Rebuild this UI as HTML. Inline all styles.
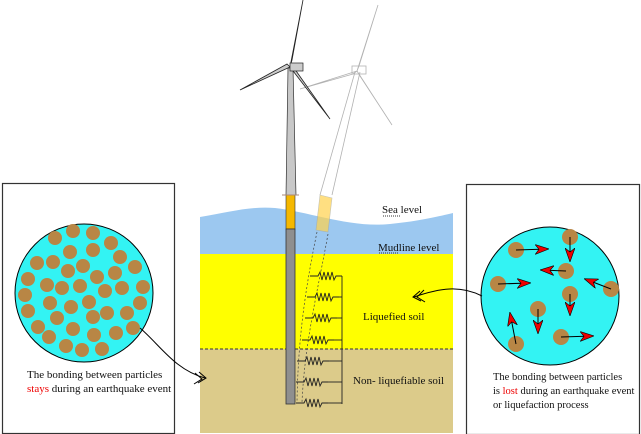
<!DOCTYPE html>
<html><head><style>
body{margin:0;background:#fff;width:641px;height:434px;overflow:hidden}
svg{display:block}
text{font-family:"Liberation Serif",serif;fill:#111}
</style></head><body>
<svg width="641" height="434" viewBox="0 0 641 434">
<defs>
<marker id="ra" markerWidth="14" markerHeight="10" refX="13" refY="5" orient="auto" markerUnits="userSpaceOnUse">
<path d="M0,0 L14,5 L0,10 L4,5 Z" fill="#e00" stroke="#000" stroke-width="0.6"/></marker>
<path id="sp" d="M0,0 H8 L10,-4 L12,4 L14,-4 L16,4 L18,-4 L20,4 L22,-4 L24,4 L26,0 H32"/>
</defs>
<!-- scene -->
<rect x="200" y="254" width="253" height="95" fill="#ffff00"/>
<rect x="200" y="349" width="253" height="84" fill="#dccb8a"/>
<path d="M200,217 C230,212 250,206 275,208 C310,212 350,228 390,224 C420,221 440,216 453,213 L453,254 L200,254 Z" fill="#9cc8f0"/>
<line x1="200" y1="349" x2="453" y2="349" stroke="#333" stroke-dasharray="3,2" stroke-width="1"/>
<!-- ghost turbine -->
<g opacity="0.45" stroke="#555" fill="none" stroke-width="0.8">
<path d="M355,72 L320,195 M360,72 L332,195"/>
<path d="M357,71 L378,5 L359,66 Z M357,71 L300,89 L353,74 Z M357,71 L392,125 L360,76 Z"/>
<rect x="352" y="66" width="14" height="8"/>
</g>
<path d="M320,195 L332,198 L328,232 L316,230 Z" fill="#ffd24d" opacity="0.7" stroke="#aa9" stroke-width="0.6"/>
<path d="M317,232 C305,290 298,340 297,402 M328,234 C318,290 305,340 302,402" fill="none" stroke="#444" stroke-width="0.7" stroke-dasharray="2,2"/>
<!-- main turbine -->
<path d="M288,68 L293,68 L296,195 L286,195 Z" fill="#c8c8c8" stroke="#333" stroke-width="0.7"/>
<path d="M290,67 L303,0 L292,60 Z M290,67 L240,90 L287,64 Z M290,67 L330,119 L294,68 Z" fill="#ccc" stroke="#222" stroke-width="0.8"/>
<rect x="290" y="63" width="13" height="8" fill="#ccc" stroke="#222" stroke-width="0.7"/>
<rect x="286" y="195" width="9" height="34" fill="#f5b800" stroke="#333" stroke-width="0.6"/>
<line x1="282" y1="195" x2="299" y2="195" stroke="#a87" stroke-width="1"/>
<rect x="286" y="229" width="9" height="175" fill="#8f8f8f" stroke="#333" stroke-width="0.8"/>
<!-- springs -->
<g fill="none" stroke="#222" stroke-width="0.9">
<line x1="342" y1="276" x2="342" y2="404"/>
<use href="#sp" x="310" y="276"/><use href="#sp" x="307" y="297"/><use href="#sp" x="305" y="318"/><use href="#sp" x="302" y="340"/>
<use href="#sp" x="297" y="361"/><use href="#sp" x="296" y="382"/><use href="#sp" x="296" y="403"/>
<line x1="336" y1="276" x2="342" y2="276"/><line x1="336" y1="297" x2="342" y2="297"/><line x1="334" y1="318" x2="342" y2="318"/><line x1="334" y1="340" x2="342" y2="340"/><line x1="328" y1="361" x2="342" y2="361"/><line x1="328" y1="382" x2="342" y2="382"/><line x1="328" y1="403" x2="342" y2="403"/>
</g>
<text x="382" y="213" font-size="11">Sea level</text>
<line x1="383" y1="216" x2="400" y2="216" stroke="#333" stroke-dasharray="1,1"/>
<text x="378" y="251" font-size="11">Mudline level</text>
<line x1="379" y1="253" x2="399" y2="253" stroke="#333" stroke-dasharray="1,1"/>
<text x="363" y="320" font-size="11">Liquefied soil</text>
<text x="353" y="384" font-size="11">Non- liquefiable soil</text>
<!-- boxes -->
<rect x="2.5" y="183.5" width="172" height="250" fill="none" stroke="#333" stroke-width="1.2"/>
<rect x="466.5" y="184.5" width="173" height="250" fill="none" stroke="#333" stroke-width="1.2"/>
<circle cx="84" cy="293" r="69" fill="#33f3f3" stroke="#000" stroke-width="1"/>
<g fill="#b88645">
<circle cx="55" cy="238" r="7"/><circle cx="73" cy="231" r="7"/><circle cx="93" cy="233" r="7"/><circle cx="111" cy="243" r="7"/><circle cx="70" cy="252" r="7"/><circle cx="93" cy="250" r="7"/><circle cx="120" cy="257" r="7"/><circle cx="37" cy="263" r="7"/><circle cx="53" cy="262" r="7"/><circle cx="83" cy="266" r="7"/><circle cx="135" cy="267" r="7"/><circle cx="68" cy="271" r="7"/><circle cx="115" cy="273" r="7"/><circle cx="28" cy="279" r="7"/><circle cx="97" cy="277" r="7"/><circle cx="47" cy="285" r="7"/><circle cx="62" cy="288" r="7"/><circle cx="80" cy="286" r="7"/><circle cx="105" cy="291" r="7"/><circle cx="122" cy="288" r="7"/><circle cx="143" cy="287" r="7"/><circle cx="25" cy="295" r="7"/><circle cx="50" cy="303" r="7"/><circle cx="89" cy="302" r="7"/><circle cx="140" cy="303" r="7"/><circle cx="71" cy="307" r="7"/><circle cx="28" cy="311" r="7"/><circle cx="107" cy="313" r="7"/><circle cx="127" cy="313" r="7"/><circle cx="93" cy="317" r="7"/><circle cx="57" cy="318" r="7"/><circle cx="38" cy="327" r="7"/><circle cx="73" cy="329" r="7"/><circle cx="133" cy="328" r="7"/><circle cx="94" cy="335" r="7"/><circle cx="116" cy="333" r="7"/><circle cx="49" cy="337" r="7"/><circle cx="66" cy="346" r="7"/><circle cx="82" cy="350" r="7"/><circle cx="102" cy="349" r="7"/>
</g>
<text x="27" y="378" font-size="11">The bonding between particles</text>
<text x="27" y="392" font-size="11"><tspan style="fill:#e00">stays</tspan> during an earthquake event</text>
<circle cx="550" cy="296" r="69" fill="#33f3f3" stroke="#000" stroke-width="1"/>
<g fill="#b88645">
<circle cx="516" cy="250" r="8"/><circle cx="570" cy="237" r="8"/><circle cx="566" cy="271" r="8"/><circle cx="498" cy="284" r="8"/><circle cx="611" cy="289" r="8"/><circle cx="570" cy="294" r="8"/><circle cx="538" cy="309" r="8"/><circle cx="516" cy="344" r="8"/><circle cx="561" cy="337" r="8"/>
</g>
<g stroke="#000" stroke-width="1" marker-end="url(#ra)">
<line x1="516" y1="250" x2="548" y2="249"/><line x1="570" y1="237" x2="570" y2="261"/><line x1="566" y1="271" x2="541" y2="270"/><line x1="498" y1="284" x2="530" y2="283"/><line x1="611" y1="289" x2="585" y2="279"/><line x1="570" y1="294" x2="570" y2="315"/><line x1="538" y1="309" x2="538" y2="333"/><line x1="516" y1="344" x2="510" y2="313"/><line x1="561" y1="337" x2="593" y2="336"/>
</g>
<text x="493" y="380" font-size="10.5">The bonding between particles</text>
<text x="493" y="394" font-size="10.5">is <tspan style="fill:#e00">lost</tspan> during an earthquake event</text>
<text x="493" y="408" font-size="10.5">or liquefaction process</text>
<!-- connectors -->
<path d="M482,296 C460,285 440,288 414,297" fill="none" stroke="#000" stroke-width="1"/>
<path d="M420,291 L413,297 L421,301 M424,290 L417,297 L425,302" fill="none" stroke="#000" stroke-width="1"/>
<path d="M140,328 C160,345 175,370 205,378" fill="none" stroke="#000" stroke-width="1"/>
<path d="M199,372 L206,378 L198,383 M195,373 L202,379 L194,384" fill="none" stroke="#000" stroke-width="1"/>
</svg>
</body></html>
